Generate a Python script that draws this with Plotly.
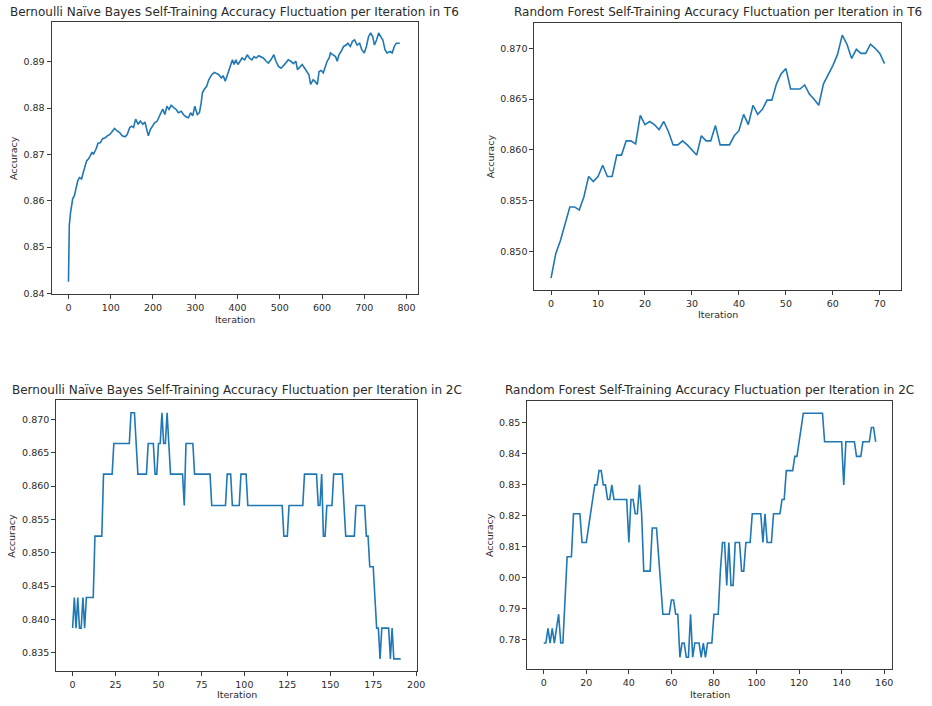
import plotly.graph_objects as go

# ---------------- data ----------------
# Bernoulli Naive Bayes, T6 (iteration, accuracy)
bnb_t6_iter = [0, 2, 5, 7, 10, 14, 18, 22, 26, 31, 35, 39, 43, 48, 52, 56, 59, 65, 70, 75,
               81, 87, 92, 98, 104, 109, 116, 121, 127, 134, 139, 145, 149, 154, 159, 165, 170, 176, 181, 186,
               189, 194, 199, 204, 210, 215, 220, 223, 228, 233, 238, 243, 249, 255, 260, 267, 272, 278, 284, 289,
               294, 299, 305, 310, 314, 317, 321, 327, 332, 339, 345, 350, 356, 362, 366, 371, 378, 383, 388, 392,
               396, 401, 406, 411, 417, 423, 428, 434, 439, 444, 450, 456, 461, 468, 473, 479, 486, 491, 497, 503,
               509, 514, 520, 526, 532, 538, 542, 548, 553, 559, 565, 569, 573, 579, 583, 589, 593, 598, 603, 608,
               612, 617, 620, 626, 632, 636, 640, 645, 651, 657, 661, 667, 672, 677, 683, 689, 694, 700, 705, 710,
               715, 720, 724, 729, 734, 739, 744, 749, 754, 761, 766, 771, 776, 782, 784]
bnb_t6_acc = [0.8425, 0.8547, 0.8575, 0.8586, 0.8604, 0.8611, 0.8629, 0.8643, 0.8650, 0.8647,
              0.8661, 0.8672, 0.8686, 0.8691, 0.8697, 0.8705, 0.8700, 0.8711, 0.8724, 0.8725,
              0.8734, 0.8736, 0.8740, 0.8743, 0.8750, 0.8756, 0.8750, 0.8747, 0.8740, 0.8738,
              0.8743, 0.8758, 0.8761, 0.8758, 0.8776, 0.8765, 0.8772, 0.8765, 0.8770, 0.8750,
              0.8740, 0.8754, 0.8761, 0.8768, 0.8772, 0.8783, 0.8790, 0.8798, 0.8786, 0.8804,
              0.8797, 0.8806, 0.8801, 0.8797, 0.8790, 0.8793, 0.8786, 0.8781, 0.8779, 0.8790,
              0.8783, 0.8804, 0.8786, 0.8790, 0.8811, 0.8833, 0.8840, 0.8847, 0.8861, 0.8872,
              0.8877, 0.8874, 0.8872, 0.8865, 0.8870, 0.8858, 0.8879, 0.8890, 0.8904, 0.8894,
              0.8904, 0.8894, 0.8901, 0.8908, 0.8904, 0.8915, 0.8908, 0.8904, 0.8911, 0.8908,
              0.8913, 0.8910, 0.8908, 0.8901, 0.8897, 0.8904, 0.8915, 0.8901, 0.8890, 0.8886,
              0.8891, 0.8897, 0.8904, 0.8901, 0.8896, 0.8901, 0.8883, 0.8890, 0.8894, 0.8886,
              0.8879, 0.8872, 0.8851, 0.8861, 0.8858, 0.8851, 0.8879, 0.8881, 0.8876, 0.8890,
              0.8901, 0.8908, 0.8919, 0.8915, 0.8911, 0.8901, 0.8915, 0.8922, 0.8933, 0.8936,
              0.8940, 0.8933, 0.8944, 0.8947, 0.8936, 0.8940, 0.8926, 0.8919, 0.8933, 0.8954,
              0.8962, 0.8954, 0.8936, 0.8947, 0.8962, 0.8954, 0.8947, 0.8926, 0.8919, 0.8922,
              0.8919, 0.8933, 0.8940, 0.8940, 0.8940]

# Random Forest, T6 (one value per iteration 0..71)
rf_t6_acc = [0.8474, 0.8498, 0.8511, 0.8528, 0.8544, 0.8544, 0.8541, 0.8554, 0.8574, 0.8569,
             0.8574, 0.8585, 0.8574, 0.8574, 0.8595, 0.8595, 0.8609, 0.8609, 0.8606, 0.8634,
             0.8625, 0.8628, 0.8625, 0.8620, 0.8628, 0.8618, 0.8605, 0.8605, 0.8609, 0.8605,
             0.8600, 0.8595, 0.8614, 0.8609, 0.8609, 0.8624, 0.8605, 0.8605, 0.8605, 0.8614,
             0.8619, 0.8635, 0.8625, 0.8644, 0.8635, 0.8640, 0.8649, 0.8649, 0.8665, 0.8675,
             0.8680, 0.8660, 0.8660, 0.8660, 0.8664, 0.8655, 0.8650, 0.8644, 0.8665, 0.8674,
             0.8683, 0.8694, 0.8713, 0.8704, 0.8690, 0.8699, 0.8695, 0.8695, 0.8704, 0.8700,
             0.8695, 0.8685]

# Bernoulli Naive Bayes, 2C (one value per iteration 0..191)
bnb_2c_acc = [
    0.8387, 0.8433, 0.8387, 0.8433, 0.8387, 0.8387, 0.8433, 0.8387, 0.8433, 0.8433,
    0.8433, 0.8433, 0.8433, 0.8525, 0.8525, 0.8525, 0.8525, 0.8525, 0.8618, 0.8618,
    0.8618, 0.8618, 0.8618, 0.8618, 0.8664, 0.8664, 0.8664, 0.8664, 0.8664, 0.8664,
    0.8664, 0.8664, 0.8664, 0.8664, 0.8710, 0.8710, 0.8710, 0.8664, 0.8618, 0.8618,
    0.8618, 0.8618, 0.8618, 0.8618, 0.8664, 0.8664, 0.8664, 0.8664, 0.8618, 0.8618,
    0.8664, 0.8664, 0.8710, 0.8664, 0.8664, 0.8710, 0.8664, 0.8618, 0.8618, 0.8618,
    0.8618, 0.8618, 0.8618, 0.8618, 0.8618, 0.8571, 0.8664, 0.8664, 0.8664, 0.8664,
    0.8664, 0.8618, 0.8618, 0.8618, 0.8618, 0.8618, 0.8618, 0.8618, 0.8618, 0.8618,
    0.8618, 0.8571, 0.8571, 0.8571, 0.8571, 0.8571, 0.8571, 0.8571, 0.8571, 0.8571,
    0.8618, 0.8618, 0.8618, 0.8571, 0.8571, 0.8571, 0.8571, 0.8571, 0.8618, 0.8618,
    0.8618, 0.8618, 0.8571, 0.8571, 0.8571, 0.8571, 0.8571, 0.8571, 0.8571, 0.8571,
    0.8571, 0.8571, 0.8571, 0.8571, 0.8571, 0.8571, 0.8571, 0.8571, 0.8571, 0.8571,
    0.8571, 0.8571, 0.8571, 0.8525, 0.8525, 0.8525, 0.8571, 0.8571, 0.8571, 0.8571,
    0.8571, 0.8571, 0.8571, 0.8571, 0.8571, 0.8618, 0.8618, 0.8618, 0.8618, 0.8618,
    0.8618, 0.8618, 0.8618, 0.8571, 0.8571, 0.8618, 0.8525, 0.8525, 0.8571, 0.8571,
    0.8571, 0.8571, 0.8618, 0.8618, 0.8618, 0.8618, 0.8618, 0.8618, 0.8571, 0.8525,
    0.8525, 0.8525, 0.8525, 0.8525, 0.8525, 0.8571, 0.8571, 0.8571, 0.8571, 0.8571,
    0.8571, 0.8525, 0.8525, 0.8479, 0.8479, 0.8479, 0.8433, 0.8387, 0.8387, 0.8341,
    0.8387, 0.8387, 0.8387, 0.8387, 0.8387, 0.8341, 0.8387, 0.8341, 0.8341, 0.8341,
    0.8341, 0.8341]

# Random Forest, 2C (one value per iteration 0..156)
rf_2c_acc = [
    0.7789, 0.7789, 0.7836, 0.7789, 0.7836, 0.7789, 0.7836, 0.7882, 0.7789, 0.7789,
    0.7928, 0.8067, 0.8067, 0.8067, 0.8206, 0.8206, 0.8206, 0.8206, 0.8113, 0.8113,
    0.8113, 0.8160, 0.8206, 0.8252, 0.8299, 0.8299, 0.8345, 0.8345, 0.8299, 0.8299,
    0.8252, 0.8252, 0.8299, 0.8252, 0.8252, 0.8252, 0.8252, 0.8252, 0.8252, 0.8252,
    0.8113, 0.8252, 0.8252, 0.8206, 0.8206, 0.8299, 0.8206, 0.8021, 0.8021, 0.8021,
    0.8021, 0.8160, 0.8160, 0.8160, 0.8067, 0.7975, 0.7882, 0.7882, 0.7882, 0.7882,
    0.7928, 0.7928, 0.7882, 0.7882, 0.7743, 0.7789, 0.7789, 0.7743, 0.7743, 0.7882,
    0.7743, 0.7789, 0.7789, 0.7789, 0.7743, 0.7789, 0.7743, 0.7789, 0.7789, 0.7789,
    0.7882, 0.7882, 0.7882, 0.8021, 0.8113, 0.8113, 0.7975, 0.8113, 0.7975, 0.7975,
    0.8113, 0.8113, 0.8113, 0.8021, 0.8021, 0.8113, 0.8113, 0.8113, 0.8206, 0.8206,
    0.8206, 0.8206, 0.8206, 0.8113, 0.8206, 0.8113, 0.8113, 0.8113, 0.8206, 0.8206,
    0.8206, 0.8206, 0.8252, 0.8252, 0.8345, 0.8345, 0.8345, 0.8345, 0.8391, 0.8391,
    0.8438, 0.8484, 0.8530, 0.8530, 0.8530, 0.8530, 0.8530, 0.8530, 0.8530, 0.8530,
    0.8530, 0.8530, 0.8438, 0.8438, 0.8438, 0.8438, 0.8438, 0.8438, 0.8438, 0.8438,
    0.8438, 0.8299, 0.8438, 0.8438, 0.8438, 0.8438, 0.8438, 0.8391, 0.8391, 0.8391,
    0.8438, 0.8438, 0.8438, 0.8438, 0.8484, 0.8484, 0.8438]

# tick labels
t6_bnb_xticks = [0, 100, 200, 300, 400, 500, 600, 700, 800]
t6_bnb_yticks = [0.84, 0.85, 0.86, 0.87, 0.88, 0.89]
t6_rf_xticks = [0, 10, 20, 30, 40, 50, 60, 70]
t6_rf_yticks = [0.850, 0.855, 0.860, 0.865, 0.870]
c2_bnb_xticks = [0, 25, 50, 75, 100, 125, 150, 175, 200]
c2_bnb_yticks = [0.835, 0.840, 0.845, 0.850, 0.855, 0.860, 0.865, 0.870]
c2_rf_xticks = [0, 20, 40, 60, 80, 100, 120, 140, 160]
c2_rf_yticks = [0.78, 0.79, 0.80, 0.81, 0.82, 0.83, 0.84, 0.85]
c2_rf_yticktext = ["0.78", "0.79", "0.00", "0.81", "0.82", "0.83", "0.84", "0.85"]

titles = [
    "Bernoulli Naïve Bayes Self-Training Accuracy Fluctuation per Iteration in T6",
    "Random Forest Self-Training Accuracy Fluctuation per Iteration in T6",
    "Bernoulli Naïve Bayes Self-Training Accuracy Fluctuation per Iteration in 2C",
    "Random Forest Self-Training Accuracy Fluctuation per Iteration in 2C",
]

# ---------------- layout helpers ----------------
W, H = 932, 706
FONT = "DejaVu Sans"
LINE = "#1f77b4"
AX = "#3a3a3a"
TXT = "#2a2a2a"

# axes boxes in pixels: (left, top, right, bottom)
boxes = [(52, 22, 422, 296), (539, 23, 909, 292),
         (56.7, 402.7, 420.7, 675), (531.7, 403.3, 900, 673.3)]


def dom(box):
    l, t, r, b = box
    return [l / W, r / W], [1 - b / H, 1 - t / H]


fig = go.Figure()

series = [
    (bnb_t6_iter, bnb_t6_acc),
    (list(range(len(rf_t6_acc))), rf_t6_acc),
    (list(range(len(bnb_2c_acc))), bnb_2c_acc),
    (list(range(len(rf_2c_acc))), rf_2c_acc),
]
xranges = [[-40, 828], [-3.55, 74.55], [-9.55, 200.55], [-7.8, 163.8]]
yranges = [[0.8398, 0.8986], [0.8462, 0.8725], [0.83225, 0.87285], [0.77037, 0.85694]]
xticks = [t6_bnb_xticks, t6_rf_xticks, c2_bnb_xticks, c2_rf_xticks]
yticks = [t6_bnb_yticks, t6_rf_yticks, c2_bnb_yticks, c2_rf_yticks]
yticktexts = [[f"{v:.2f}" for v in t6_bnb_yticks],
              [f"{v:.3f}" for v in t6_rf_yticks],
              [f"{v:.3f}" for v in c2_bnb_yticks],
              c2_rf_yticktext]

# positions of the text pieces (pixels)
title_y = [12, 12, 392.5, 392.5]
xlabel_y = [321, 316.5, 698.5, 698]
ylabel_x = [13, 495, 12, 493]

annotations = []
for i, ((xs, ys), box) in enumerate(zip(series, boxes)):
    n = "" if i == 0 else str(i + 1)
    xd, yd = dom(box)
    fig.add_trace(go.Scatter(x=xs, y=ys, mode="lines",
                             line=dict(color=LINE, width=1.6),
                             xaxis="x" + n, yaxis="y" + n, showlegend=False,
                             hoverinfo="skip"))
    common = dict(showgrid=False, zeroline=False, showline=True, mirror=True,
                  linecolor=AX, linewidth=1, ticks="outside", ticklen=4,
                  tickwidth=1, tickcolor=AX,
                  tickfont=dict(family=FONT, size=9.5, color=TXT))
    fig.layout["xaxis" + n] = dict(domain=xd, range=xranges[i], anchor="y" + n,
                                   tickmode="array", tickvals=xticks[i],
                                   ticktext=[str(v) for v in xticks[i]], **common)
    fig.layout["yaxis" + n] = dict(domain=yd, range=yranges[i], anchor="x" + n,
                                   tickmode="array", tickvals=yticks[i],
                                   ticktext=yticktexts[i], **common)
    cx = (box[0] + box[2]) / 2
    cy = (box[1] + box[3]) / 2
    annotations.append(dict(text=titles[i], x=cx / W, y=1 - title_y[i] / H,
                            xref="paper", yref="paper", showarrow=False,
                            xanchor="center", yanchor="middle",
                            font=dict(family=FONT, size=12, color=TXT)))
    annotations.append(dict(text="Iteration", x=cx / W, y=1 - xlabel_y[i] / H,
                            xref="paper", yref="paper", showarrow=False,
                            xanchor="center", yanchor="middle",
                            font=dict(family=FONT, size=9.5, color=TXT)))
    annotations.append(dict(text="Accuracy", x=ylabel_x[i] / W, y=1 - cy / H,
                            xref="paper", yref="paper", showarrow=False,
                            xanchor="center", yanchor="middle", textangle=-90,
                            font=dict(family=FONT, size=9.5, color=TXT)))

fig.update_layout(width=W, height=H, margin=dict(l=0, r=0, t=0, b=0),
                  paper_bgcolor="white", plot_bgcolor="white",
                  annotations=annotations)

fig.write_html("out.html")
